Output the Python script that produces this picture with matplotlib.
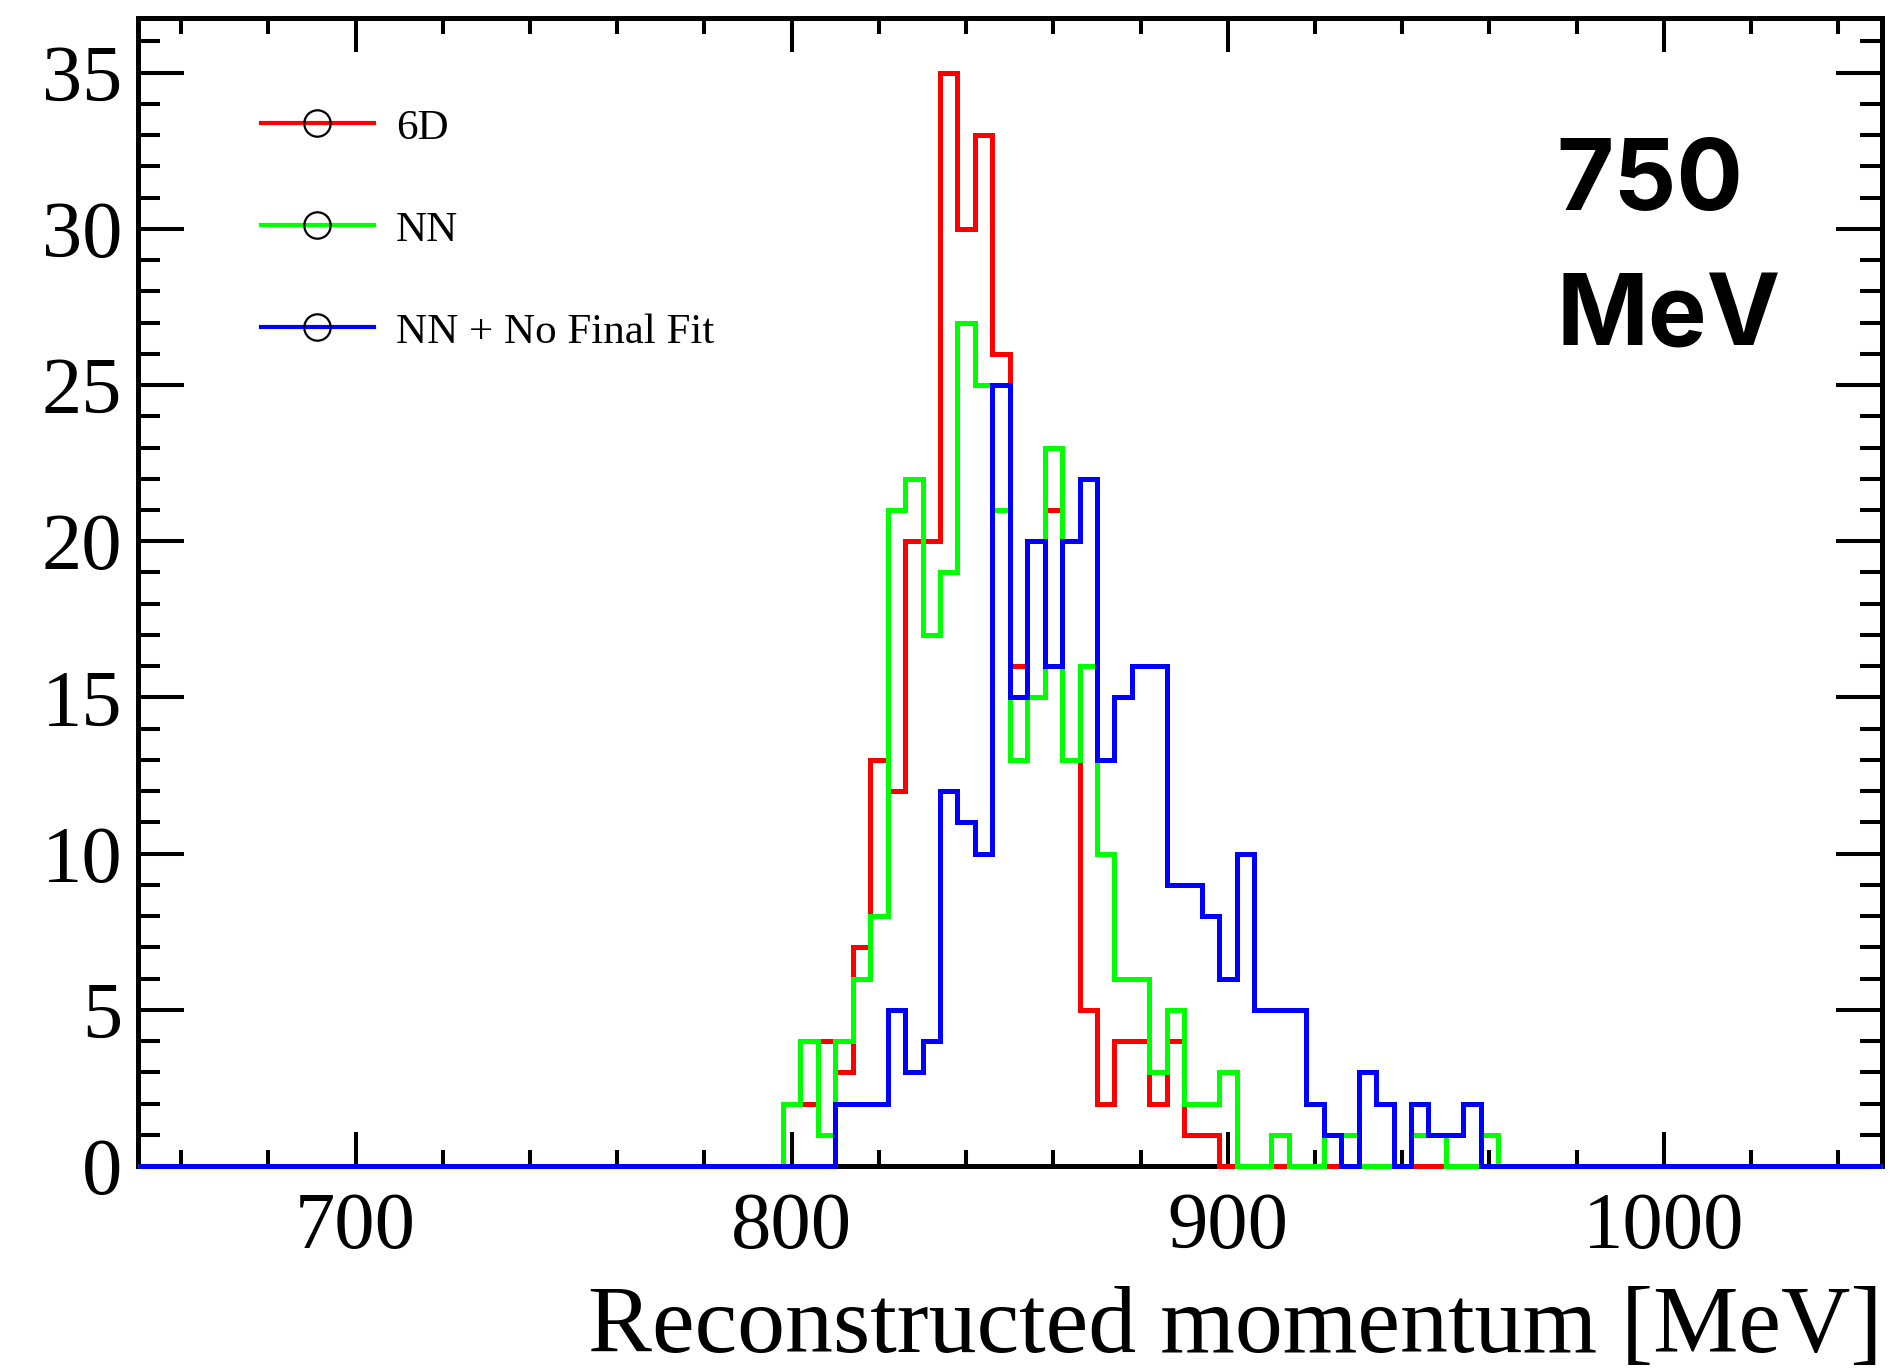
import numpy as np
import matplotlib
matplotlib.use("Agg")
import matplotlib.pyplot as plt
from matplotlib.lines import Line2D
from matplotlib.ticker import MultipleLocator

# histogram binning (MeV)
x_lo, x_hi, bin_w = 650, 1050, 4
first_bin = 798            # low edge of the first listed bin

# counts per 4 MeV bin, starting at 798 MeV
counts_6d = [2, 2, 4, 3, 7, 13, 12, 20, 20, 35, 30, 33, 26, 16, 20, 21, 13, 5,
             2, 4, 4, 2, 4, 1, 1, 0, 0, 0, 0, 0, 0, 0, 0, 0, 0, 0, 0, 0, 0, 0, 0]
counts_nn = [2, 4, 1, 4, 6, 8, 21, 22, 17, 19, 27, 25, 21, 13, 15, 23, 13, 16,
             10, 6, 6, 3, 5, 2, 2, 3, 0, 0, 1, 0, 0, 1, 1, 0, 0, 0, 1, 1, 0, 0, 1]
counts_nofit = [0, 0, 0, 2, 2, 2, 5, 3, 4, 12, 11, 10, 25, 15, 20, 16, 20, 22,
                13, 15, 16, 16, 9, 9, 8, 6, 10, 5, 5, 5, 2, 1, 0, 3, 2, 0, 2, 1,
                1, 2, 0]

labels = ["6D", "NN", "NN + No Final Fit"]
colors = ["#ff0000", "#00ff00", "#0000ff"]

edges = np.arange(x_lo, x_hi + bin_w, bin_w)
n_bins = len(edges) - 1
i0 = (first_bin - x_lo) // bin_w


def full_hist(c):
    h = np.zeros(n_bins)
    h[i0:i0 + len(c)] = c
    return h


W, H = 1896, 1372
fig = plt.figure(figsize=(W / 100, H / 100), dpi=100)
ax = fig.add_axes([137.5 / W, 1 - 1166 / H, (1882 - 137.5) / W, (1166 - 18) / H])

for c, col in zip([counts_6d, counts_nn, counts_nofit], colors):
    ax.stairs(full_hist(c), edges, color=col, lw=3.6, zorder=3, clip_on=False)

ax.set_xlim(x_lo, x_hi)
ax.set_ylim(0, 35 * 1.05)

serif = "Liberation Serif"
ax.xaxis.set_major_locator(MultipleLocator(100))
ax.xaxis.set_minor_locator(MultipleLocator(20))
ax.yaxis.set_major_locator(MultipleLocator(5))
ax.yaxis.set_minor_locator(MultipleLocator(1))
ax.tick_params(which="both", direction="in", top=True, right=True, width=2.9,
               color="black")
ax.tick_params(axis="x", which="major", length=24.5, pad=19)
ax.tick_params(axis="x", which="minor", length=11.5)
ax.tick_params(axis="y", which="major", length=33, pad=11)
ax.tick_params(axis="y", which="minor", length=15.5)
for lab in ax.get_xticklabels() + ax.get_yticklabels():
    lab.set_fontfamily(serif)
    lab.set_fontsize(58)
for s in ax.spines.values():
    s.set_linewidth(3.6)

ax.set_xlabel("Reconstructed momentum [MeV]", fontfamily=serif, fontsize=69,
              ha="right")
ax.xaxis.set_label_coords(1.0, -0.104)

handles = [Line2D([], [], color=col, lw=3, marker="o", mfc="none", mec="black",
                  ms=19, mew=1.6) for col in colors]
ax.legend(handles, labels, loc="center left",
          bbox_to_anchor=(260.7 / W, 1 - 230 / H), bbox_transform=fig.transFigure,
          frameon=False, borderpad=0, borderaxespad=0, handlelength=2.63,
          handletextpad=0.51, labelspacing=1.46,
          prop={"family": serif, "size": 31})

# va="baseline" on multi-line text anchors the last line's baseline
ax.text(1556.7 / W, 1 - 345 / H, "750\nMeV", transform=fig.transFigure,
        ha="left", va="baseline", fontfamily="Inter", fontweight="bold",
        fontsize=71, linespacing=1.6)

fig.savefig("out.png", dpi=100)
